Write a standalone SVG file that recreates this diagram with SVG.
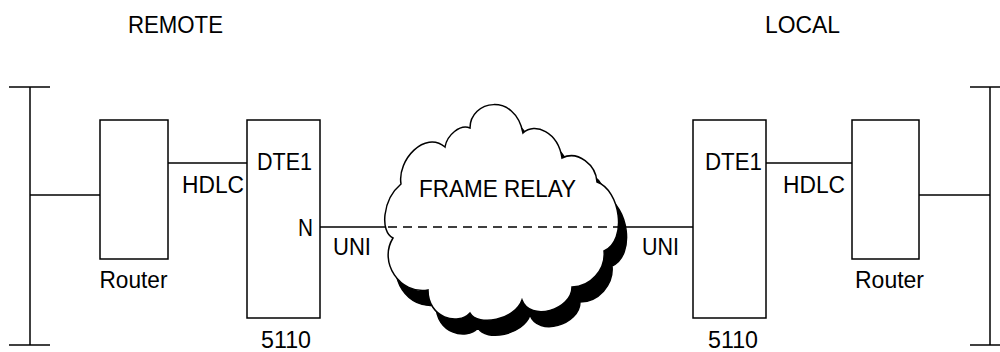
<svg xmlns="http://www.w3.org/2000/svg" width="1000" height="352" viewBox="0 0 1000 352">
<style>
.ln{stroke:#000;stroke-width:1.5;fill:none}
.box{stroke:#000;stroke-width:1.5;fill:#fff}
.t{font-family:"Liberation Sans",Arial,sans-serif;font-size:23px;fill:#000}
</style>
<defs>
<path id="cloudShape" d="M393,238 C380,232 382,200 401,184 C397,160 425,130 445,147 C447,135 460,124 470,128 C470,100 515,92 523,133 C535,122 558,132 562,158 C578,150 596,165 597,182 C620,190 628,240 604,251 C606,270 590,287 572,287 C572,310 530,322 522,300 C515,320 478,327 470,313 C458,326 428,318 428,290 C400,295 378,262 393,238 Z"/>
</defs>
<rect width="1000" height="352" fill="#fff"/>
<g id="labels">
<text class="t" x="128" y="33" textLength="95" lengthAdjust="spacingAndGlyphs">REMOTE</text>
<text class="t" x="765" y="33" textLength="75" lengthAdjust="spacingAndGlyphs">LOCAL</text>
</g>
<g id="connectors">
<line class="ln" x1="30" y1="195" x2="100" y2="195"/>
<line class="ln" x1="168" y1="163" x2="247" y2="163"/>
<line class="ln" x1="320" y1="227" x2="693" y2="227"/>
<line class="ln" x1="766" y1="163" x2="852" y2="163"/>
<line class="ln" x1="919" y1="195" x2="990" y2="195"/>
<text class="t" x="182" y="193" textLength="62" lengthAdjust="spacingAndGlyphs">HDLC</text>
<text class="t" x="333" y="255" textLength="38" lengthAdjust="spacingAndGlyphs">UNI</text>
<text class="t" x="642" y="255" textLength="37" lengthAdjust="spacingAndGlyphs">UNI</text>
<text class="t" x="783" y="193" textLength="62" lengthAdjust="spacingAndGlyphs">HDLC</text>
</g>
<g id="bus-left">
<line class="ln" x1="30" y1="87" x2="30" y2="345"/>
<line class="ln" x1="9" y1="87" x2="50" y2="87"/>
<line class="ln" x1="9" y1="345" x2="50" y2="345"/>
</g>
<g id="bus-right">
<line class="ln" x1="990" y1="87" x2="990" y2="345"/>
<line class="ln" x1="970" y1="87" x2="1011" y2="87"/>
<line class="ln" x1="970" y1="345" x2="1011" y2="345"/>
</g>
<g id="router-left">
<rect class="box" x="100" y="120" width="68" height="139"/>
<text class="t" x="99.5" y="288" textLength="68" lengthAdjust="spacingAndGlyphs">Router</text>
</g>
<g id="dte-left">
<rect class="box" x="247" y="120" width="73" height="198"/>
<text class="t" x="257" y="170" textLength="55" lengthAdjust="spacingAndGlyphs">DTE1</text>
<text class="t" x="298" y="236" textLength="15" lengthAdjust="spacingAndGlyphs">N</text>
<text class="t" x="261" y="348" textLength="50" lengthAdjust="spacingAndGlyphs">5110</text>
</g>
<g id="cloud">
<use href="#cloudShape" transform="translate(8,15)" fill="#000" stroke="#000" stroke-width="1.5"/>
<use href="#cloudShape" fill="#fff" stroke="#000" stroke-width="1.5"/>
<line class="ln" x1="388" y1="227" x2="620" y2="227" stroke-dasharray="9 6"/>
<text class="t" x="419" y="197" textLength="157" lengthAdjust="spacingAndGlyphs">FRAME RELAY</text>
</g>
<g id="dte-right">
<rect class="box" x="693" y="120" width="73" height="198"/>
<text class="t" x="705" y="170" textLength="57" lengthAdjust="spacingAndGlyphs">DTE1</text>
<text class="t" x="708" y="348" textLength="50" lengthAdjust="spacingAndGlyphs">5110</text>
</g>
<g id="router-right">
<rect class="box" x="852" y="120" width="67" height="139"/>
<text class="t" x="855" y="288" textLength="69" lengthAdjust="spacingAndGlyphs">Router</text>
</g>
</svg>
